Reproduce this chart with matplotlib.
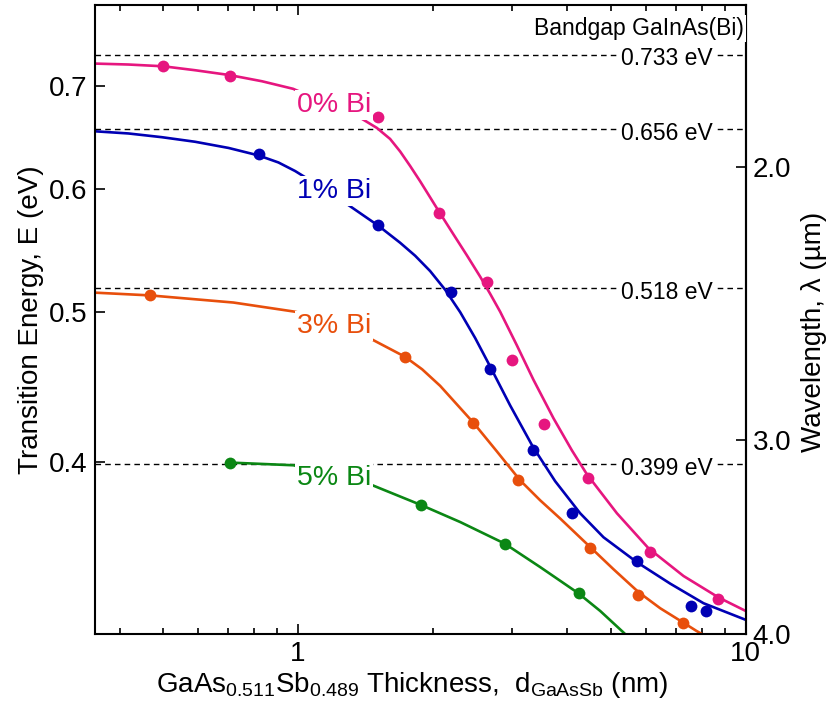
import numpy as np
import matplotlib.pyplot as plt
from matplotlib import ticker, transforms

plt.rcParams['font.family'] = ['Liberation Sans', 'DejaVu Sans']
plt.rcParams['mathtext.fontset'] = 'custom'
plt.rcParams['mathtext.rm'] = 'Liberation Sans'
plt.rcParams['mathtext.it'] = 'Liberation Sans:italic'

HC = 1.2398  # eV*um

# measured transition energies (eV) vs GaAsSb thickness (nm)
thick_0 = [0.501, 0.704, 1.509, 2.061, 2.640, 3.005, 3.554, 4.443, 6.099, 8.668]
energy_0 = [0.7203, 0.7105, 0.6683, 0.5795, 0.5229, 0.4656, 0.4236, 0.3910, 0.3503, 0.3264]

thick_1 = [0.821, 1.512, 2.203, 2.688, 3.354, 4.098, 5.706, 7.556, 8.162]
energy_1 = [0.6320, 0.5690, 0.5148, 0.4593, 0.4074, 0.3712, 0.3453, 0.3231, 0.3207]

thick_3 = [0.468, 1.739, 2.466, 3.109, 4.502, 5.754, 7.234]
energy_3 = [0.5125, 0.4677, 0.4242, 0.3897, 0.3520, 0.3283, 0.3152]

thick_5 = [0.705, 1.887, 2.894, 4.233]
energy_5 = [0.3998, 0.3753, 0.3545, 0.3292]

# model curves
fit_x_0 = [0.3525, 0.4184, 0.501, 0.5897, 0.7035, 0.831, 0.976, 1.377, 1.501, 1.607,
           1.692, 1.781, 1.876, 1.974, 2.061, 2.226, 2.385, 2.554, 2.688, 2.830,
           3.084, 3.358, 3.722, 4.092, 4.420, 5.157, 6.067, 7.263, 8.696, 10.0]
fit_e_0 = [0.7232, 0.7222, 0.7203, 0.7161, 0.7110, 0.7045, 0.6966, 0.6673, 0.6573, 0.6466,
           0.6347, 0.6212, 0.6071, 0.5929, 0.5811, 0.5611, 0.5439, 0.5269, 0.5137, 0.5002,
           0.4758, 0.4521, 0.4270, 0.4071, 0.3929, 0.3708, 0.3520, 0.3378, 0.3272, 0.3207]

fit_x_1 = [0.3525, 0.4184, 0.4969, 0.5897, 0.7006, 0.8166, 0.9051, 0.9862, 1.1215, 1.286,
           1.514, 1.692, 1.828, 1.974, 2.133, 2.304, 2.488, 2.688, 2.979, 3.348,
           3.754, 4.269, 4.814, 5.715, 6.782, 8.051, 10.0]
fit_e_1 = [0.6540, 0.6519, 0.6483, 0.6439, 0.6380, 0.6310, 0.6244, 0.6165, 0.6025, 0.5871,
           0.5683, 0.5542, 0.5436, 0.5314, 0.5168, 0.4999, 0.4811, 0.4611, 0.4352, 0.4093,
           0.3889, 0.3708, 0.3578, 0.3448, 0.3340, 0.3244, 0.3165]

fit_x_3 = [0.3525, 0.468, 0.7181, 0.9826, 1.1215, 1.463, 1.736, 1.895, 2.078, 2.466,
           2.782, 3.135, 3.476, 3.853, 4.511, 5.068, 5.763, 6.443, 7.204, 7.753, 8.204]
fit_e_3 = [0.5146, 0.5125, 0.5071, 0.5003, 0.4958, 0.4801, 0.4678, 0.4592, 0.4481, 0.4242,
           0.4065, 0.3894, 0.3780, 0.3679, 0.3523, 0.3412, 0.3298, 0.3220, 0.3156, 0.3114,
           0.3085]

fit_x_5 = [0.7046, 0.9777, 1.450, 1.887, 2.304, 2.894, 3.476, 3.853, 4.233, 4.733,
           5.335, 5.523]
fit_e_5 = [0.3998, 0.3982, 0.3871, 0.3753, 0.3660, 0.3545, 0.3423, 0.3354, 0.3292, 0.3207,
           0.3106, 0.3076]

bandgaps = [0.733, 0.656, 0.518, 0.399]
series_names = ['0% Bi', '1% Bi', '3% Bi', '5% Bi']
colors = ['#e6167f', '#0000b4', '#e84f0c', '#0b8714']

fig = plt.figure(figsize=(8.32, 7.10), dpi=100)
ax = fig.add_axes([0.1142, 0.107, 0.7821, 0.886])
ax.set_xscale('log')
ax.set_yscale('log')
ax.set_xlim(0.3525, 10)
ax.set_ylim(0.3099, 0.789)

meas = [(thick_0, energy_0), (thick_1, energy_1), (thick_3, energy_3), (thick_5, energy_5)]
fits = [(fit_x_0, fit_e_0), (fit_x_1, fit_e_1), (fit_x_3, fit_e_3), (fit_x_5, fit_e_5)]
label_y = [0.8304, 0.6927, 0.4785, 0.2369]

for (mx, me), (fx, fe), c, name, ly in zip(meas, fits, colors, series_names, label_y):
    ax.plot(fx, fe, color=c, lw=1.9, zorder=2, solid_joinstyle='round')
    ax.plot(mx, me, 'o', color=c, ms=8.5, mec='none', zorder=3)
    ax.text(0.310, ly, name, transform=ax.transAxes, color=c, fontsize=20.5,
            ha='left', va='baseline', zorder=5,
            bbox=dict(fc='white', ec='none', pad=1.5))

# GaInAs(Bi) bandgap reference lines
trans = transforms.blended_transform_factory(ax.transAxes, ax.transData)
for eg in bandgaps:
    ax.axhline(eg, color='k', lw=1.0, ls=(0, (4, 3)), zorder=1)
    ax.annotate(f'{eg:.3f} eV', xy=(0.879, eg), xycoords=trans,
                xytext=(0, -3), textcoords='offset points',
                ha='center', va='center', fontsize=16.5, zorder=4,
                bbox=dict(fc='white', ec='none', pad=1.2))
ax.text(0.9974, 0.9523, 'Bandgap GaInAs(Bi)', transform=ax.transAxes,
        ha='right', va='baseline', fontsize=16.5, zorder=6,
        bbox=dict(fc='white', ec='none', pad=1.5))

# axes, ticks
ax.xaxis.set_major_locator(ticker.FixedLocator([1, 10]))
ax.xaxis.set_major_formatter(ticker.FuncFormatter(lambda v, _: f'{v:g}'))
ax.xaxis.set_minor_locator(ticker.LogLocator(subs=np.arange(2, 10)))
ax.xaxis.set_minor_formatter(ticker.NullFormatter())
ax.yaxis.set_major_locator(ticker.FixedLocator([0.4, 0.5, 0.6, 0.7]))
ax.yaxis.set_major_formatter(ticker.FormatStrFormatter('%.1f'))
ax.yaxis.set_minor_locator(ticker.NullLocator())

ax.tick_params(which='both', direction='in', top=True, right=False, width=1.2)
ax.tick_params(which='major', length=7, labelsize=20)
ax.tick_params(which='minor', length=4)
ax.tick_params(axis='x', pad=5)
ax.tick_params(axis='y', pad=5.5)
for sp in ax.spines.values():
    sp.set_linewidth(1.5)

sec = ax.secondary_yaxis('right', functions=(lambda e: HC / e, lambda w: HC / w))
sec.yaxis.set_major_locator(ticker.FixedLocator([2.0, 3.0, 4.0]))
sec.yaxis.set_major_formatter(ticker.FormatStrFormatter('%.1f'))
sec.yaxis.set_minor_locator(ticker.NullLocator())
sec.tick_params(direction='in', length=7, width=1.2, labelsize=20, pad=5)
sec.spines['right'].set_linewidth(1.5)
sec.set_ylabel('Wavelength, λ (µm)', fontsize=20)
sec.yaxis.set_label_coords(1.085, 0.481, transform=ax.transAxes)

ax.set_ylabel('Transition Energy, E (eV)', fontsize=20)
ax.yaxis.set_label_coords(-0.078, 0.5)
ax.set_xlabel(r'GaAs$_{0.511}$Sb$_{0.489}$ Thickness,  d$_{\mathrm{GaAsSb}}$ (nm)', fontsize=20)
ax.xaxis.set_label_coords(0.487, -0.057)

fig.savefig('out.png', dpi=100)
